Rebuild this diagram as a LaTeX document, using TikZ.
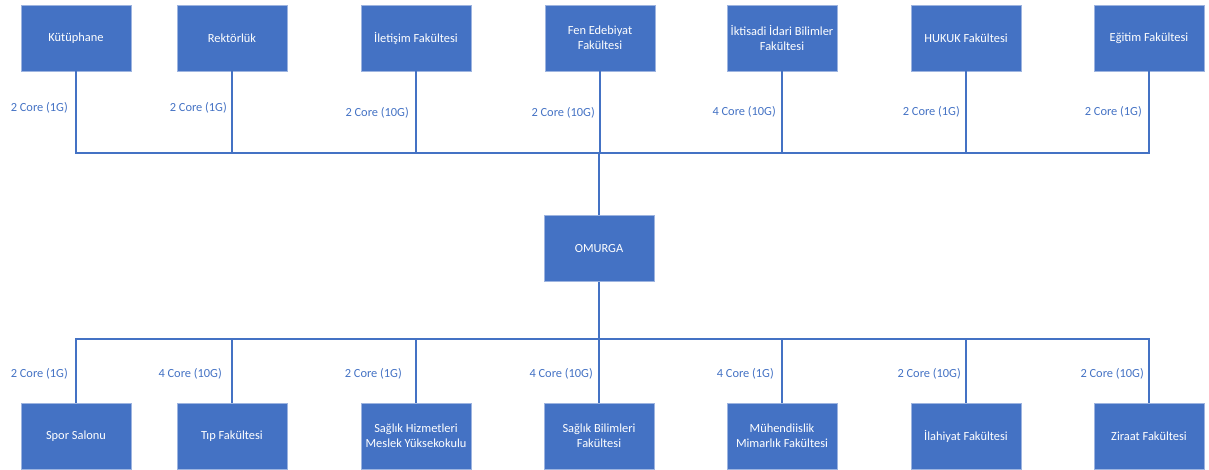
\documentclass[tikz,border=0pt]{standalone}
\usepackage{fontspec}
\setmainfont{Carlito}
\definecolor{boxblue}{HTML}{4472C4}
\definecolor{boxedge}{HTML}{9DB4E0}
\begin{document}
\begin{tikzpicture}[x=1pt,y=-1pt,
  unit/.style={draw=boxedge,line width=0.8pt,fill=boxblue,text=white,
    minimum width=110pt,minimum height=66pt,inner sep=0pt,align=center,
    font=\fontsize{12.4pt}{15pt}\selectfont},
  link/.style={draw=boxblue,line width=1.3pt},
  corelabel/.style={text=boxblue,anchor=east,inner sep=0pt,
    font=\fontsize{12.4pt}{15pt}\selectfont}]
\useasboundingbox (0,0) rectangle (1209,469);
% top row
\node[unit] (t1) at (76,38) {Kütüphane};
\node[unit] (t2) at (232,38) {Rektörlük};
\node[unit] (t3) at (416,38) {İletişim Fakültesi};
\node[unit] (t4) at (600,38) {Fen Edebiyat\\Fakültesi};
\node[unit] (t5) at (782,38) {İktisadi İdari Bilimler\\Fakültesi};
\node[unit] (t6) at (966,38) {HUKUK Fakültesi};
\node[unit] (t7) at (1149,38) {Eğitim Fakültesi};
% backbone
\node[unit] (om) at (599,248.5) {OMURGA};
% bottom row
\node[unit] (b1) at (76,436) {Spor Salonu};
\node[unit] (b2) at (232,436) {Tıp Fakültesi};
\node[unit] (b3) at (416,436) {Sağlık Hizmetleri\\Meslek Yüksekokulu};
\node[unit] (b4) at (599,436) {Sağlık Bilimleri\\Fakültesi};
\node[unit] (b5) at (782,436) {Mühendiislik\\Mimarlık Fakültesi};
\node[unit] (b6) at (966,436) {İlahiyat Fakültesi};
\node[unit] (b7) at (1149,436) {Ziraat Fakültesi};
% bus points
\coordinate (busT) at (599,153);
\coordinate (busB) at (599,339);
% top connectors
\foreach \n in {t1,t2,t3,t4,t5,t6,t7}{
  \draw[link] (\n.south) |- (busT);
}
\draw[link] (busT) -- (om.north);
\draw[link] (om.south) -- (busB);
\foreach \n in {b1,b2,b3,b4,b5,b6,b7}{
  \draw[link] (busB) -| (\n.north);
}
% top labels
\node[corelabel] (l1) at (68,108) {2 Core (1G)};
\node[corelabel] (l2) at (227,108) {2 Core (1G)};
\node[corelabel] (l3) at (409,113) {2 Core (10G)};
\node[corelabel] (l4) at (595,113) {2 Core (10G)};
\node[corelabel] (l5) at (776,112) {4 Core (10G)};
\node[corelabel] (l6) at (960,112) {2 Core (1G)};
\node[corelabel] (l7) at (1142,112) {2 Core (1G)};
% bottom labels
\node[corelabel] (m1) at (68,374) {2 Core (1G)};
\node[corelabel] (m2) at (222,374) {4 Core (10G)};
\node[corelabel] (m3) at (402,374) {2 Core (1G)};
\node[corelabel] (m4) at (593,374) {4 Core (10G)};
\node[corelabel] (m5) at (774,374) {4 Core (1G)};
\node[corelabel] (m6) at (961,374) {2 Core (10G)};
\node[corelabel] (m7) at (1144,374) {2 Core (10G)};
\end{tikzpicture}
\end{document}
